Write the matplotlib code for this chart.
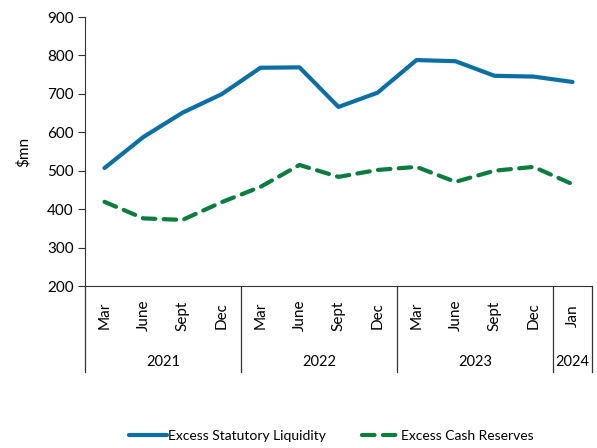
import matplotlib
matplotlib.use("Agg")
from matplotlib import pyplot as plt
from matplotlib.transforms import blended_transform_factory

plt.rcParams['font.family'] = ['Lato', 'DejaVu Sans']
plt.rcParams['font.size'] = 11

months = ["Mar", "June", "Sept", "Dec",
          "Mar", "June", "Sept", "Dec",
          "Mar", "June", "Sept", "Dec",
          "Jan"]
years = ["2021", "2022", "2023", "2024"]
year_counts = [4, 4, 4, 1]

statutory_liquidity = [507, 588, 651, 699, 768, 769, 666, 703, 788, 785, 747, 745, 731]
cash_reserves = [419, 376, 372, 418, 458, 515, 484, 502, 510, 471, 500, 510, 465]

blue = "#0b6fa4"
green = "#0a7d3e"

fig = plt.figure(figsize=(5.97, 4.48), dpi=100)
ax = fig.add_axes([0.1424, 0.3616, 0.8492, 0.6004])

x = list(range(len(months)))
ax.plot(x, statutory_liquidity, color=blue, lw=3.0, solid_capstyle='round',
        label="Excess Statutory Liquidity")
ax.plot(x, cash_reserves, color=green, lw=3.0, ls=(0, (3, 2)),
        dash_capstyle='round', label="Excess Cash Reserves")

ax.set_xlim(-0.5, len(months) - 0.5)
ax.set_ylim(200, 900)
ax.set_yticks(range(200, 901, 100))
ax.set_ylabel("$mn", labelpad=12)
for s in ["top", "right"]:
    ax.spines[s].set_visible(False)
ax.spines["left"].set_color("#333333")
ax.spines["bottom"].set_color("#333333")
ax.tick_params(axis='y', direction='out', length=5, color="#333333", pad=3)
ax.set_xticks([])

# two-row category axis
trans = blended_transform_factory(ax.transData, ax.transAxes)
bottom = -0.32
for i, m in enumerate(months):
    ax.text(i, -0.11, m, rotation=90, ha='center', va='center', transform=trans)

pos = -0.5
for yr, n in zip(years, year_counts):
    ax.plot([pos, pos], [0, bottom], color="#333333", lw=0.9, transform=trans, clip_on=False)
    ax.text(pos + n / 2, -0.283, yr, ha='center', va='center', transform=trans,
            fontsize=10.5)
    pos += n
ax.plot([pos, pos], [0, bottom], color="#333333", lw=0.9, transform=trans, clip_on=False)

fig.legend(loc='center', bbox_to_anchor=(0.555, 0.027), ncol=2, frameon=False,
           handlelength=2.7, handletextpad=0.1, columnspacing=2.6, fontsize=10)

fig.savefig("out.png", dpi=100)
